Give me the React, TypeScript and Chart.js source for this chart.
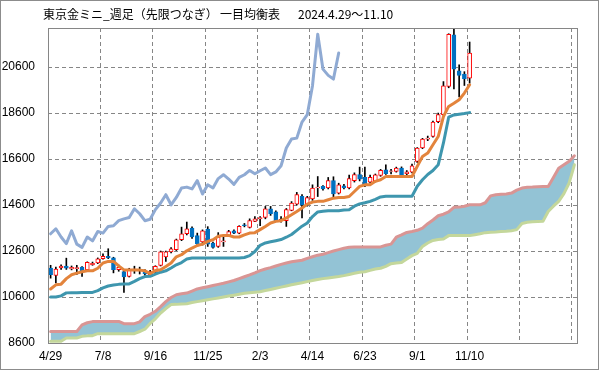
import React, { useEffect, useRef } from "react";
import { Chart, registerables } from "chart.js";

Chart.register(...registerables);

// ---- data ----
const tickLabels = ["4/29", "7/8", "9/16", "11/25", "2/3", "4/14", "6/23", "9/1", "11/10"];
const weekCount = 101; // 81 weekly candles + 20 weeks of cloud ahead
const yTickValues = [8600, 10600, 12600, 14600, 16600, 18600, 20600];

const opens = [
  11860, 11540, 11860, 11950, 11820, 11830, 11900, 11790, 12000, 12080,
  12270, 12370, 12300, 11790, 11710, 11500, 11780, 11740, 11700, 11560,
  11690, 11975, 12340, 12560, 12660, 13090, 13350, 13600, 13270, 13000,
  13560, 12950, 12800, 13000, 13270, 13480, 13380, 13740, 13630, 13890,
  14000, 14060, 14440, 14300, 13920, 13920, 14370, 14640, 14980, 14610,
  14870, 15340, 15410, 15340, 15660, 15120, 15440, 15340, 15660, 15920,
  15800, 15600, 15630, 15890, 16135, 16060, 16060, 16210, 15960, 16035,
  16500, 17080, 17470, 17580, 18230, 18530, 19760, 22000, 20440, 20300,
  20120,
];
const highs = [
  11980, 11900, 12000, 12290, 11950, 11980, 11920, 12130, 12120, 12300,
  12480, 12700, 12330, 11990, 11790, 11850, 11940, 11900, 11790, 11760,
  11960, 12600, 12600, 12750, 13120, 13640, 13860, 13650, 13380, 13520,
  13660, 12990, 13400, 13240, 13500, 13520, 13700, 13800, 14000, 14100,
  14100, 14540, 14540, 14350, 14100, 14450, 14750, 15150, 15050, 14980,
  15480, 15840, 15450, 15800, 15830, 15550, 15500, 15900, 16000, 16250,
  16250, 15900, 15950, 16150, 16350, 16150, 16250, 16260, 16100, 16380,
  17100, 17500, 17600, 18250, 18600, 19970, 22050, 22400, 20700, 20400,
  21690,
];
const lows = [
  11420, 11210, 11800, 11800, 11780, 11580, 11500, 11760, 11980, 12050,
  12250, 12270, 11650, 11720, 10800, 11470, 11630, 11600, 11540, 11530,
  11630, 11950, 12150, 12520, 12620, 13050, 13300, 13150, 12800, 12860,
  12800, 12720, 12760, 12800, 13230, 13350, 13350, 13650, 13600, 13880,
  13700, 14000, 14150, 13900, 13850, 13670, 14350, 14600, 14040, 14550,
  14800, 14970, 15250, 15300, 14950, 15080, 15300, 15300, 15600, 15650,
  15400, 15550, 15600, 15850, 15930, 15950, 16030, 15850, 15900, 16000,
  16450, 17050, 17400, 17550, 18180, 18500, 19700, 19650, 19300, 19800,
  19900,
];
const closes = [
  11570, 11820, 11950, 11850, 11890, 11880, 11710, 12110, 12070, 12260,
  12370, 12300, 11790, 11890, 11470, 11820, 11820, 11760, 11600, 11710,
  11930, 12560, 12560, 12700, 13090, 13350, 13570, 13210, 12920, 13480,
  12900, 12760, 13210, 13040, 13450, 13380, 13670, 13700, 13920, 14000,
  14060, 14440, 14220, 13920, 13980, 14400, 14690, 15050, 14610, 14930,
  15340, 15380, 15300, 15660, 15080, 15480, 15340, 15750, 15920, 15730,
  15500, 15800, 15918, 16105, 15960, 16090, 16210, 15920, 16040, 16310,
  17080, 17470, 17510, 18210, 18530, 19790, 22030, 20510, 20240, 20080,
  21210,
];
const tenkan = [
  10950, 11130, 11160, 11400, 11570, 11640, 11700, 11740, 11740, 11850,
  12080, 12150, 12150, 11950, 11780, 11770, 11770, 11770, 11740, 11620,
  11750, 11790, 11930, 12080, 12350, 12440, 12610, 12730, 12840, 12900,
  13020, 13090, 13240, 13280, 13280, 13210, 13210, 13300, 13380, 13400,
  13530, 13670, 13820, 13890, 13920, 14040, 14180, 14320, 14470, 14640,
  14730, 14760, 14760, 14830, 14900, 14930, 14930, 14970, 15190, 15410,
  15480, 15480, 15630, 15700, 15840, 15840, 15840, 15840, 15840, 15840,
  16280, 16710, 16860, 17220, 17580, 18450, 18890, 19030, 19180, 19470,
  19830,
];
const kijun = [
  10600, 10600, 10650, 10780, 10790, 10790, 10800, 10800, 10800, 10880,
  11000, 11080, 11120, 11150, 11170, 11170, 11280, 11400, 11490, 11500,
  11600, 11680, 11740, 11860, 12000, 12100, 12250, 12300, 12300, 12300,
  12300, 12300, 12300, 12300, 12300, 12300, 12300, 12320, 12400, 12580,
  12850, 12950, 13000, 13050, 13100, 13200, 13320, 13500, 13680, 13820,
  14100, 14300, 14330, 14350, 14350, 14350, 14380, 14400, 14550, 14650,
  14700, 14760, 14850, 14950, 14980, 14980, 14980, 14980, 14980, 14980,
  15420, 15700, 15930, 16100, 16350, 17300, 18420, 18520, 18550, 18580,
  18620,
];
const spanA = [
  9100, 9100, 9100, 9100, 9100, 9100, 9390, 9480, 9530, 9540,
  9540, 9540, 9540, 9540, 9440, 9440, 9440, 9520, 9750, 9850,
  9980, 10180, 10400, 10580, 10700, 10740, 10770, 10860, 10950, 11000,
  11050, 11100, 11150, 11200, 11260, 11320, 11400, 11480, 11560, 11650,
  11750, 11820, 11880, 11950, 12020, 12080, 12130, 12170, 12200, 12280,
  12350, 12420, 12460, 12530, 12600, 12660, 12720, 12760, 12780, 12780,
  12780, 12780, 12780, 12780, 12850, 12900, 13200, 13300, 13410, 13450,
  13500, 13600, 13790, 13950, 14135, 14200, 14300, 14500, 14510, 14550,
  14610, 14610, 14610, 14700, 15000, 15050, 15070, 15080, 15120, 15250,
  15340, 15370, 15380, 15400, 15410, 15410, 15800, 16200, 16350, 16500,
  16740,
];
const spanB = [
  8680, 8680, 8680, 8820, 8820, 8820, 8890, 8910, 8920, 9005,
  9005, 9005, 9005, 9005, 9005, 9005, 9005, 9100, 9200, 9450,
  9650, 9900, 10100, 10270, 10280, 10300, 10310, 10360, 10400, 10440,
  10480, 10520, 10560, 10600, 10640, 10680, 10720, 10760, 10790, 10810,
  10830, 10880, 10930, 10980, 11030, 11080, 11130, 11180, 11220, 11270,
  11320, 11360, 11400, 11430, 11460, 11490, 11530, 11580, 11630, 11680,
  11700, 11760, 11820, 11850, 11930, 12050, 12080, 12100, 12250, 12400,
  12500, 12800, 12950, 13060, 13100, 13120, 13270, 13270, 13270, 13270,
  13270, 13310, 13350, 13400, 13420, 13430, 13450, 13460, 13480, 13530,
  13800, 13850, 13870, 13880, 13890, 14320, 14550, 14760, 15100, 15560,
  16350,
];
const chikouShift = 25;

// ---- styles ----
const UP_BORDER = "#FF0000";
const UP_FILL = "#FFFFFF";
const DOWN = "#0070C0";
const GRID = "#868686";

export default function App() {
  const ref = useRef<HTMLCanvasElement | null>(null);

  useEffect(() => {
    document.body.style.margin = "0";
    const canvas = ref.current;
    if (!canvas) return;

    const categories = Array.from({ length: weekCount }, (_, i) =>
      i % 10 === 0 && tickLabels[i / 10] !== undefined ? tickLabels[i / 10] : ""
    );
    const bodies = closes.map((c, i) => [opens[i], c]);
    const wicks = closes.map((_, i) => [lows[i], highs[i]]);
    const isUp = closes.map((c, i) => c >= opens[i]);
    const chikou = closes.slice(chikouShift);

    const frame = {
      id: "frame",
      afterDraw(chart: any) {
        const { ctx, chartArea } = chart;
        ctx.save();
        ctx.strokeStyle = GRID;
        ctx.lineWidth = 1;
        ctx.setLineDash([]);
        ctx.strokeRect(
          Math.round(chartArea.left) + 0.5,
          Math.round(chartArea.top) + 0.5,
          Math.round(chartArea.right - chartArea.left),
          Math.round(chartArea.bottom - chartArea.top)
        );
        ctx.strokeStyle = "#8C8C8C";
        ctx.strokeRect(0.5, 0.5, chart.width - 1, chart.height - 1);
        ctx.fillStyle = "#000";
        ctx.font = '12px "Noto Sans CJK JP"';
        ctx.textBaseline = "middle";
        ctx.textAlign = "left";
        ctx.fillText("東京金ミニ_週足（先限つなぎ）", 43, 14);
        ctx.fillText("一目均衡表", 220, 14);
        ctx.fillText("2024.4.29～11.10", 298, 14);
        ctx.restore();
      },
    };

    const lineBase = {
      type: "line" as const,
      pointRadius: 0,
      borderWidth: 3,
      tension: 0,
      borderJoinStyle: "round" as const,
      borderCapStyle: "round" as const,
      fill: false,
    };

    const chart = new Chart(canvas, {
      type: "bar",
      data: {
        labels: categories,
        datasets: [
          {
            ...lineBase,
            label: "先行スパンA",
            data: spanA,
            borderColor: "#D99594",
            fill: { target: "+1", above: "#93C3D5", below: "#93C3D5" },
            order: 11,
          } as any,
          {
            ...lineBase,
            label: "先行スパンB",
            data: spanB,
            borderColor: "#C4D79B",
            order: 10,
          } as any,
          {
            type: "bar",
            label: "wick",
            data: wicks,
            backgroundColor: "#000000",
            borderWidth: 0,
            barThickness: 1,
            grouped: false,
            order: 6,
          } as any,
          {
            type: "bar",
            label: "body",
            data: bodies,
            backgroundColor: isUp.map((u) => (u ? UP_FILL : DOWN)),
            borderColor: isUp.map((u) => (u ? UP_BORDER : DOWN)),
            borderWidth: 1,
            borderSkipped: false,
            barThickness: 4,
            grouped: false,
            order: 5,
          } as any,
          {
            ...lineBase,
            label: "遅行スパン",
            data: chikou,
            borderColor: "#8FAAD3",
            order: 3,
          } as any,
          {
            ...lineBase,
            label: "基準線",
            data: kijun,
            borderColor: "#3E96AE",
            order: 2,
          } as any,
          {
            ...lineBase,
            label: "転換線",
            data: tenkan,
            borderColor: "#E3843C",
            order: 1,
          } as any,
        ],
      },
      options: {
        responsive: false,
        animation: false,
        devicePixelRatio: 1,
        events: [],
        layout: { padding: { top: 28, right: 22, left: 0, bottom: 0 } },
        plugins: {
          legend: { display: false },
          tooltip: { enabled: false },
          title: { display: false },
        },
        scales: {
          x: {
            type: "category",
            offset: true,
            grid: {
              offset: true,
              drawTicks: false,
              lineWidth: 1,
              color: (ctx: any) =>
                ctx.index > 0 && ctx.index % 10 === 0 ? GRID : "rgba(0,0,0,0)",
            },
            border: { display: false, dash: [4, 3] },
            ticks: {
              autoSkip: false,
              maxRotation: 0,
              padding: 6,
              color: "#000",
              font: { family: "Liberation Sans", size: 12 },
            },
            afterFit: (scale: any) => {
              scale.height = 27;
            },
          },
          y: {
            type: "linear",
            min: 8600,
            max: 22300,
            afterBuildTicks: (scale: any) => {
              scale.ticks = yTickValues.map((v) => ({ value: v }));
            },
            grid: {
              drawTicks: false,
              lineWidth: 1,
              color: (ctx: any) => (ctx.tick && ctx.tick.value === 8600 ? "rgba(0,0,0,0)" : GRID),
            },
            border: { display: false, dash: [4, 3] },
            ticks: {
              padding: 13,
              color: "#000",
              font: { family: "Liberation Sans", size: 12 },
              callback: (v: any) => String(v),
            },
            afterFit: (scale: any) => {
              scale.width = 48;
            },
          },
        },
      },
      plugins: [frame],
    });

    return () => chart.destroy();
  }, []);

  return (
    <div style={{ position: "fixed", left: 0, top: 0, width: 599, height: 370 }}>
      <canvas ref={ref} width={599} height={370} />
    </div>
  );
}
